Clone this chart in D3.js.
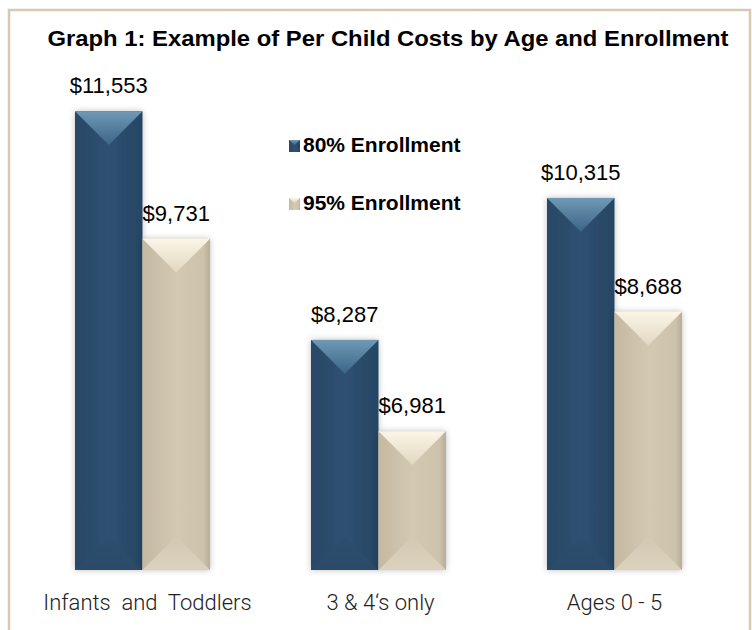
<!DOCTYPE html>
<html>
<head>
<meta charset="utf-8">
<script src="https://cdn.jsdelivr.net/npm/d3@7"></script>
<style>
  body { margin: 0; background: #fff; }
  svg { display: block; }
</style>
</head>
<body>
<svg id="chart" width="752" height="630"></svg>
<script>
// данные графика
const categories = ['Infants  and  Toddlers', '3 & 4\u2018s only', 'Ages 0 - 5'];
const seriesNames = ['80% Enrollment', '95% Enrollment'];
const enroll80 = [11553, 8287, 10315];
const enroll95 = [9731, 6981, 8688];

const svg = d3.select('#chart');

// рамка
svg.append('rect')
  .attr('x', 9).attr('y', 10)
  .attr('width', 741).attr('height', 640)
  .attr('fill', 'none')
  .attr('stroke', '#d5cab6')
  .attr('stroke-width', 2.5);

// заголовок
svg.append('text')
  .attr('x', 388).attr('y', 46)
  .attr('text-anchor', 'middle')
  .style('font-family', '"Liberation Sans", Arial, sans-serif')
  .style('font-weight', 'bold')
  .style('font-size', '22px')
  .attr('textLength', 681)
  .attr('lengthAdjust', 'spacingAndGlyphs')
  .text('Graph 1: Example of Per Child Costs by Age and Enrollment');

const defs = svg.append('defs');

function grad(id, stops, x2, y2) {
  const g = defs.append('linearGradient').attr('id', id)
    .attr('x1', 0).attr('y1', 0).attr('x2', x2).attr('y2', y2);
  stops.forEach(s => g.append('stop').attr('offset', s[0]).attr('stop-color', s[1]));
}
grad('navyBody', [[0, '#284866'], [0.5, '#2f5172'], [1, '#264563']], 1, 0);
grad('navyTop', [[0, '#7099b7'], [1, '#3c6485']], 0, 1);
grad('navyBot', [[0, '#2d4e6d'], [1, '#2a4a68']], 0, 1);
grad('beigeBody', [[0, '#c4b8a0'], [0.5, '#d3c9b3'], [0.9, '#cdc2ab'], [1, '#b8ad97']], 1, 0);
grad('beigeTop', [[0, '#fbf5e6'], [1, '#e2d8c2']], 0, 1);
grad('beigeBot', [[0, '#d3c9b3'], [1, '#dbd1bd']], 0, 1);

const shadow = defs.append('filter').attr('id', 'shadow')
  .attr('x', '-20%').attr('y', '-10%').attr('width', '140%').attr('height', '120%');
shadow.append('feDropShadow').attr('dx', 0).attr('dy', 0)
  .attr('stdDeviation', 3).attr('flood-color', '#000').attr('flood-opacity', 0.25);

// шкалы
const x0 = d3.scaleBand().domain(categories).range([75, 682]).paddingInner(0.428).paddingOuter(0);
const x1 = d3.scaleBand().domain(seriesNames).range([0, x0.bandwidth()]);
const y = d3.scaleLinear().domain([5000, 12000]).range([570, 80]);

const palettes = [
  { body: 'url(#navyBody)', top: 'url(#navyTop)', bot: 'url(#navyBot)' },
  { body: 'url(#beigeBody)', top: 'url(#beigeTop)', bot: 'url(#beigeBot)' }
];

const rows = [];
categories.forEach((c, i) => {
  rows.push({ cat: c, s: 0, v: enroll80[i] });
  rows.push({ cat: c, s: 1, v: enroll95[i] });
});

const bars = svg.append('g').selectAll('g.bar').data(rows).enter()
  .append('g').attr('class', 'bar');

bars.each(function (d) {
  const g = d3.select(this);
  const bx = x0(d.cat) + x1(seriesNames[d.s]);
  const bw = x1.bandwidth();
  const top = y(d.v), bottom = y(5000);
  const p = palettes[d.s];
  const half = bw / 2;
  g.append('rect')
    .attr('x', bx).attr('y', top).attr('width', bw).attr('height', bottom - top)
    .attr('fill', p.body).attr('filter', 'url(#shadow)');
  g.append('path')
    .attr('d', `M${bx},${top}L${bx + bw},${top}L${bx + half},${top + half}Z`)
    .attr('fill', p.top);
  g.append('path')
    .attr('d', `M${bx},${bottom}L${bx + bw},${bottom}L${bx + half},${bottom - half}Z`)
    .attr('fill', p.bot);
  g.append('text')
    .attr('x', bx + half).attr('y', top - 18)
    .attr('text-anchor', 'middle')
    .style('font-family', '"Liberation Sans", Arial, sans-serif')
    .style('font-size', '22px')
    .style('fill', '#000')
    .text('$' + d3.format(',')(d.v));
});

// подписи категорий
const catShift = [5, 2, 0];
svg.append('g').selectAll('text.cat').data(categories).enter()
  .append('text')
  .attr('class', 'cat')
  .attr('x', (d, i) => x0(d) + x0.bandwidth() / 2 + catShift[i])
  .attr('y', 610)
  .attr('text-anchor', 'middle')
  .style('font-family', 'Roboto, "Liberation Sans", sans-serif')
  .style('font-weight', 300)
  .style('font-size', '22px')
  .style('fill', '#222')
  .style('white-space', 'pre')
  .text(d => d);

// легенда
const legend = svg.append('g').selectAll('g.leg').data(seriesNames).enter()
  .append('g').attr('class', 'leg')
  .attr('transform', (d, i) => `translate(289, ${140 + i * 58})`);
legend.append('rect')
  .attr('width', 11).attr('height', 12)
  .attr('fill', (d, i) => palettes[i].body);
legend.append('path')
  .attr('d', 'M0,0L11,0L5.5,5Z')
  .attr('fill', (d, i) => palettes[i].top);
legend.append('text')
  .attr('x', 14).attr('y', 12)
  .style('font-family', '"Liberation Sans", Arial, sans-serif')
  .style('font-weight', 'bold')
  .style('font-size', '21px')
  .text(d => d);
</script>
</body>
</html>
